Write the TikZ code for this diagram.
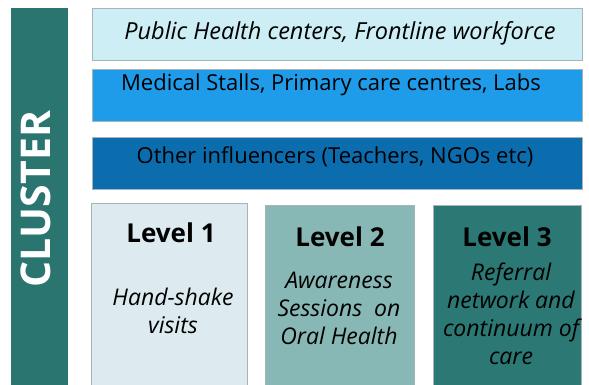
\documentclass[tikz,border=0pt]{standalone}
\usepackage{fontspec}
\setmainfont{Open Sans}
\usetikzlibrary{positioning}
\definecolor{clustbg}{HTML}{2B7570}
\definecolor{phcbg}{HTML}{CDEEF4}
\definecolor{stallbg}{HTML}{1F9CE9}
\definecolor{inflbg}{HTML}{0B6CAE}
\definecolor{lvonebg}{HTML}{DDEBF0}
\definecolor{lvtwobg}{HTML}{88B8B5}
\definecolor{lvthreebg}{HTML}{2B7874}
\definecolor{boxframe}{HTML}{A8B4B8}

\begin{document}
\begin{tikzpicture}[x=1pt, y=-1pt,
    band/.style={
        rectangle, draw=boxframe, line width=0.6pt,
        minimum width=490pt, minimum height=52pt,
        anchor=north west, inner sep=0pt,
    },
    lvbox/.style={
        rectangle, draw=boxframe, line width=0.6pt,
        minimum width=150pt, minimum height=182pt,
        anchor=north west, inner sep=0pt,
    },
    bandtxt/.style={font=\fontsize{22}{26}\selectfont, text=black},
    lvtitle/.style={font=\fontsize{26}{30}\selectfont\bfseries, text=black},
    lvtxt/.style={font=\fontsize{23}{28}\selectfont\itshape, text=black,
        align=center, inner sep=0pt},
]
\useasboundingbox (0,0) rectangle (589,385);

% Cluster bar
\node[rectangle, fill=clustbg, minimum width=57pt, minimum height=377pt,
      anchor=north west, inner sep=0pt] (cluster) at (11,8) {};
\node[rotate=90, text=white, font=\fontsize{41}{44}\selectfont\bfseries]
      (clustlbl) at (36,199) {CLUSTER};

% Bands
\node[band, fill=phcbg] (phc) at (92,8) {};
\node[band, fill=stallbg] (stalls) at (92,69) {};
\node[band, fill=inflbg] (infl) at (92,137) {};
\node[bandtxt, font=\fontsize{23.5}{26}\selectfont\itshape] (phctxt) at (340,33)
      {Public Health centers, Frontline workforce};
\node[bandtxt] (stalltxt) at (331,85) {Medical Stalls, Primary care centres, Labs};
\node[bandtxt] (infltxt) at (335,157) {Other influencers (Teachers, NGOs etc)};

% Level boxes
\node[lvbox, fill=lvonebg, minimum width=156pt] (lvA) at (91,203) {};
\node[lvbox, fill=lvtwobg, minimum width=149pt, minimum height=180pt] (lvB) at (265,205) {};
\node[lvbox, fill=lvthreebg, minimum width=148pt, minimum height=180pt] (lvC) at (433,205) {};

\node[lvtitle] (lvAt) at (171,233) {Level 1};
\node[lvtitle] (lvBt) at (340,237) {Level 2};
\node[lvtitle] (lvCt) at (507,237) {Level 3};

\node[lvtxt] (lvAx) at (173,311) {Hand-shake\\visits};
\node[lvtxt] (lvBx) at (339,308) {Awareness\\Sessions\ \ on\\Oral Health};
\node[lvtxt] (lvCx) at (511,314) {Referral\\network and\\continuum of\\care};

\end{tikzpicture}
\end{document}
